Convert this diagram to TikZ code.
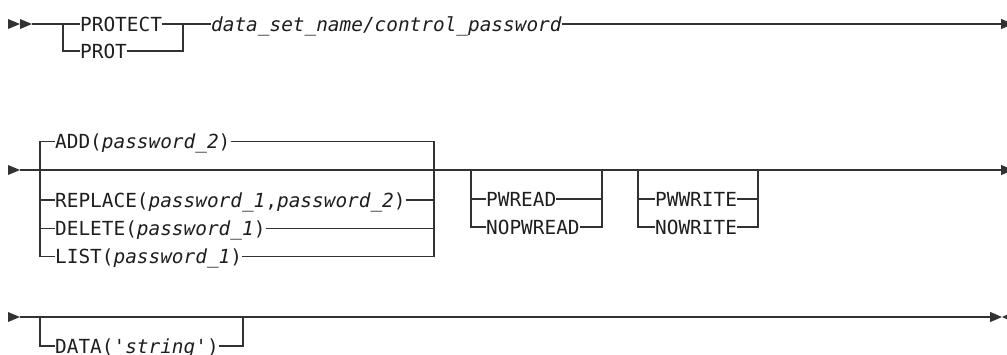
\documentclass[tikz,border=0pt]{standalone}
\usepackage{fontspec}
\setmainfont{DejaVu Sans Mono}
\usetikzlibrary{arrows.meta, positioning}
\definecolor{railgray}{RGB}{50,50,50}
\definecolor{textgray}{RGB}{30,30,30}

\begin{document}
\begin{tikzpicture}[
  x=1pt, y=-1pt,
  rail/.style={line width=1.2pt, draw=railgray},
  railend/.style={rail, -{Triangle[length=12pt, width=10pt]}},
  tipfill/.style={fill=railgray},
  kw/.style={anchor=west, inner sep=0pt, text height=14.2pt, text depth=0pt, text=textgray, font=\fontsize{19.4}{23}\selectfont},
  var/.style={kw, font=\fontsize{19.4}{23}\selectfont\itshape}
]
\useasboundingbox (0,0) rectangle (1007,354);

% Row 1: command name and data set
\foreach \x in {8,20} {
  \fill[tipfill] (\x,19) -- (\x+12,24) -- (\x,29) -- cycle;
}
\coordinate (r1in) at (32,24);
\coordinate (r1tl) at (63,24);
\coordinate (r1tr) at (183,24);
\coordinate (r1out) at (1013,24);
\node[kw] (protect) at (80,24) {PROTECT};
\node[kw] (prot) at (80,51) {PROT};
\node[var] (dsname) at (211,24) {data\_set\_name/control\_password};
\draw[rail] (r1in) -- (protect.west);
\draw[rail] (r1tl) |- (prot.west);
\draw[rail] (protect.east) -- (r1tr) -- (dsname.west);
\draw[rail] (prot.east) -| (r1tr);
\draw[railend] (dsname.east) -- (r1out);

% Row 2: password operations
\fill[tipfill] (8,165) -- (20,170) -- (8,175) -- cycle;
\coordinate (r2in) at (20,170);
\coordinate (r2out) at (1013,170);
\draw[railend] (r2in) -- (r2out);

\node[kw] (add) at (55,141.7) {ADD(\textit{password\_2})};
\node[kw] (replace) at (55,200) {REPLACE(\textit{password\_1},\textit{password\_2})};
\node[kw] (delete) at (55,228.5) {DELETE(\textit{password\_1})};
\node[kw] (list) at (55,256.7) {LIST(\textit{password\_1})};
\coordinate (pwl) at (40,170);
\coordinate (pwr) at (434,170);
\draw[rail] (add.west) -| (pwl) |- (list.west);
\draw[rail] (pwl |- replace.west) -- (replace.west);
\draw[rail] (pwl |- delete.west) -- (delete.west);
\draw[rail] (add.east) -| (pwr) |- (list.east);
\draw[rail] (replace.east) -- (pwr |- replace.east);
\draw[rail] (delete.east) -- (pwr |- delete.east);

% read protection
\node[kw] (pwread) at (486,199) {PWREAD};
\node[kw] (nopwread) at (486,227) {NOPWREAD};
\coordinate (rdl) at (471,170);
\coordinate (rdr) at (602,170);
\draw[rail] (rdl) |- (nopwread.west);
\draw[rail] (rdl |- pwread.west) -- (pwread.west);
\draw[rail] (nopwread.east) -| (rdr);
\draw[rail] (pwread.east) -- (rdr |- pwread.east);

% write protection
\node[kw] (pwwrite) at (655,199) {PWWRITE};
\node[kw] (nowrite) at (655,227) {NOWRITE};
\coordinate (wrl) at (638,170);
\coordinate (wrr) at (758,170);
\draw[rail] (wrl) |- (nowrite.west);
\draw[rail] (wrl |- pwwrite.west) -- (pwwrite.west);
\draw[rail] (nowrite.east) -| (wrr);
\draw[rail] (pwwrite.east) -- (wrr |- pwwrite.east);

% Row 3: optional data
\fill[tipfill] (8,312) -- (20,317) -- (8,322) -- cycle;
\coordinate (r3in) at (20,317);
\coordinate (r3out) at (1002,317);
\draw[railend] (r3in) -- (r3out);
\fill[tipfill] (r3out) -- (1013,312) -- (1013,322) -- cycle;

\node[kw] (data) at (55,346) {DATA(\textquotesingle\textit{string}\textquotesingle)};
\coordinate (dtl) at (40,317);
\coordinate (dtr) at (243,317);
\draw[rail] (dtl) |- (data.west);
\draw[rail] (data.east) -| (dtr);

\end{tikzpicture}
\end{document}
